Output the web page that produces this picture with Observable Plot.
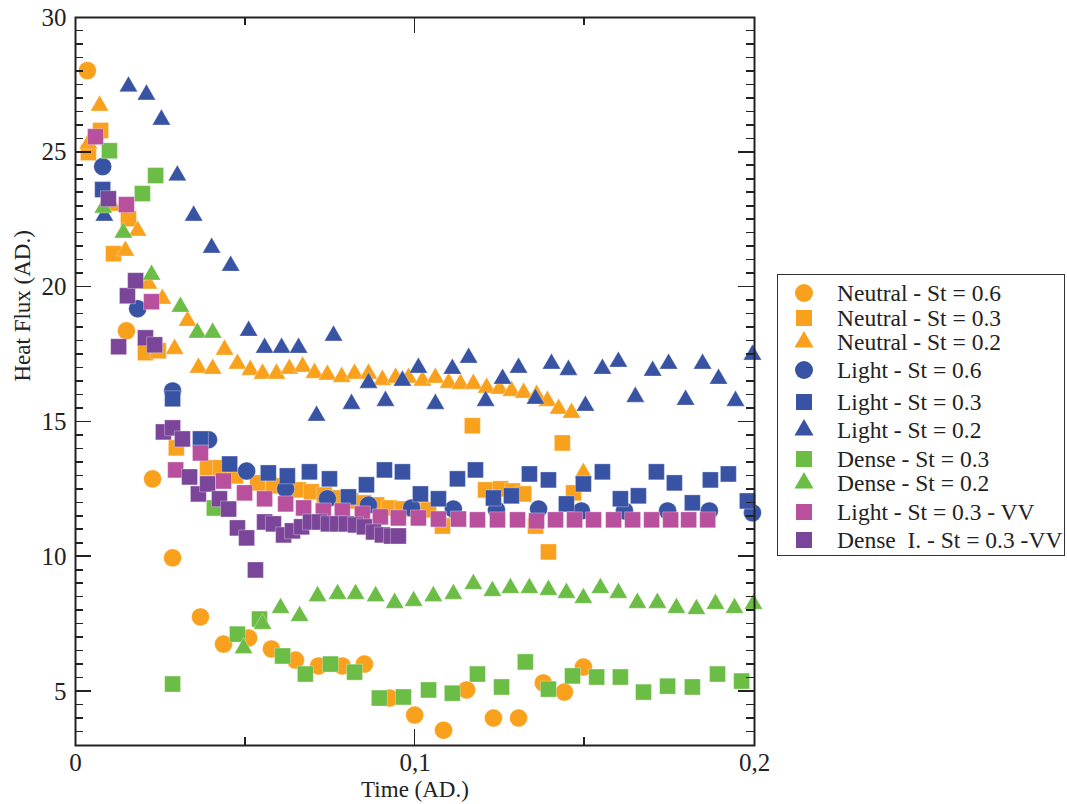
<!DOCTYPE html>
<html><head><meta charset="utf-8">
<script src="https://cdn.jsdelivr.net/npm/d3@7"></script>
<script src="https://cdn.jsdelivr.net/npm/@observablehq/plot@0.6"></script>
<style>
html,body{margin:0;padding:0;background:#fff;}
#wrap{position:relative;width:1067px;height:804px;overflow:hidden;}
#legend{position:absolute;left:777px;top:274px;width:288px;height:282px;border:1.5px solid #333;box-sizing:border-box;font-family:"Liberation Serif",serif;font-size:23.5px;color:#222;background:#fff;}
.row{position:absolute;left:0;height:26px;white-space:pre;}
.row svg{position:absolute;left:14px;top:1px;}
.row span{position:absolute;left:59px;line-height:26px;top:0;}
.tick{position:absolute;background:#222;}
</style></head><body><div id="wrap"></div>
<script>
// ---- data (Time, Heat Flux) ----
const neutral06 = [[0.0035,28.03],[0.0150,18.38],[0.0227,12.89],[0.0286,9.96],[0.0368,7.77],[0.0436,6.76],[0.0510,6.99],[0.0577,6.58],[0.0648,6.17],[0.0716,5.95],[0.0786,5.95],[0.0851,6.02],[0.0925,4.76],[0.0999,4.13],[0.1084,3.57],[0.1152,5.06],[0.1231,4.02],[0.1305,4.02],[0.1378,5.32],[0.1440,4.98],[0.1496,5.91]];
const neutral03 = [[0.0038,24.99],[0.0074,25.81],[0.0112,21.24],[0.0156,22.54],[0.0206,17.57],[0.0244,17.64],[0.0297,14.04],[0.0389,13.30],[0.0427,13.30],[0.0471,13.00],[0.0536,12.74],[0.0583,12.63],[0.0657,12.48],[0.0695,12.41],[0.0733,12.29],[0.0772,12.18],[0.0810,12.07],[0.0848,12.00],[0.0887,11.92],[0.0925,11.81],[0.0963,11.77],[0.1001,11.77],[0.1040,11.74],[0.1081,11.14],[0.1169,14.86],[0.1208,12.48],[0.1252,12.52],[0.1287,12.44],[0.1320,12.33],[0.1355,11.14],[0.1393,10.18],[0.1434,14.22],[0.1467,12.37]];
const neutral02 = [[0.0038,25.32],[0.0071,26.73],[0.0109,23.02],[0.0147,21.35],[0.0183,22.09],[0.0215,20.13],[0.0256,19.57],[0.0292,17.71],[0.0330,18.75],[0.0362,17.01],[0.0404,16.97],[0.0439,17.68],[0.0477,17.16],[0.0515,16.93],[0.0551,16.79],[0.0592,16.79],[0.0630,16.97],[0.0669,17.05],[0.0704,16.82],[0.0742,16.75],[0.0784,16.67],[0.0822,16.79],[0.0863,16.79],[0.0904,16.56],[0.0943,16.64],[0.0981,16.64],[0.1022,16.53],[0.1060,16.64],[0.1099,16.45],[0.1134,16.41],[0.1172,16.41],[0.1211,16.27],[0.1249,16.23],[0.1284,16.15],[0.1320,16.08],[0.1358,16.01],[0.1390,15.78],[0.1423,15.49],[0.1461,15.34],[0.1496,13.11]];
const light06 = [[0.0080,24.47],[0.0183,19.20],[0.0286,16.15],[0.0392,14.34],[0.0504,13.18],[0.0619,12.52],[0.0742,12.15],[0.0863,11.92],[0.0990,11.81],[0.1113,11.77],[0.1240,11.74],[0.1364,11.77],[0.1490,11.70],[0.1617,11.70],[0.1744,11.70],[0.1867,11.70],[0.1994,11.63]];
const light03 = [[0.0080,23.62],[0.0286,15.86],[0.0368,14.37],[0.0454,13.44],[0.0568,13.11],[0.0624,13.00],[0.0689,13.15],[0.0748,12.89],[0.0804,12.22],[0.0857,12.67],[0.0910,13.22],[0.0963,13.15],[0.1016,12.33],[0.1069,12.15],[0.1125,12.89],[0.1178,13.22],[0.1231,12.18],[0.1284,12.26],[0.1337,13.07],[0.1393,12.85],[0.1446,11.96],[0.1496,12.70],[0.1552,13.15],[0.1605,12.15],[0.1658,12.26],[0.1711,13.15],[0.1764,12.74],[0.1817,12.00],[0.1870,12.85],[0.1923,13.07],[0.1979,12.07]];
const light02 = [[0.0085,22.65],[0.0156,27.44],[0.0209,27.14],[0.0253,26.21],[0.0300,24.14],[0.0348,22.65],[0.0401,21.46],[0.0457,20.79],[0.0510,18.38],[0.0557,17.75],[0.0607,17.75],[0.0657,17.75],[0.0710,15.23],[0.0760,18.20],[0.0813,15.67],[0.0863,16.45],[0.0913,15.78],[0.0963,16.53],[0.1010,17.01],[0.1060,15.67],[0.1110,16.97],[0.1158,17.38],[0.1208,15.78],[0.1258,16.60],[0.1305,17.01],[0.1355,15.86],[0.1402,17.16],[0.1452,16.93],[0.1502,15.60],[0.1552,16.97],[0.1599,17.23],[0.1649,15.93],[0.1700,16.90],[0.1747,17.16],[0.1797,15.82],[0.1847,17.16],[0.1894,16.60],[0.1944,15.78],[0.1994,17.49]];
const dense03 = [[0.0100,25.06],[0.0197,23.47],[0.0236,24.14],[0.0286,5.28],[0.0409,11.81],[0.0477,7.13],[0.0542,7.69],[0.0610,6.32],[0.0677,5.65],[0.0751,6.02],[0.0822,5.72],[0.0895,4.76],[0.0966,4.80],[0.1040,5.06],[0.1110,4.94],[0.1184,5.65],[0.1255,5.17],[0.1325,6.10],[0.1393,5.09],[0.1464,5.58],[0.1535,5.54],[0.1605,5.54],[0.1673,4.98],[0.1744,5.20],[0.1817,5.17],[0.1891,5.65],[0.1962,5.39]];
const dense02 = [[0.0082,22.95],[0.0141,22.02],[0.0224,20.46],[0.0309,19.27],[0.0359,18.31],[0.0404,18.31],[0.0495,6.61],[0.0551,7.51],[0.0604,8.10],[0.0660,7.80],[0.0713,8.54],[0.0772,8.62],[0.0825,8.62],[0.0884,8.54],[0.0940,8.29],[0.0996,8.36],[0.1054,8.54],[0.1113,8.62],[0.1172,8.99],[0.1228,8.73],[0.1281,8.84],[0.1337,8.84],[0.1393,8.77],[0.1446,8.66],[0.1496,8.47],[0.1546,8.84],[0.1599,8.66],[0.1655,8.29],[0.1714,8.29],[0.1770,8.10],[0.1829,8.06],[0.1885,8.25],[0.1941,8.10],[0.1997,8.25]];
const light03vv = [[0.0059,25.58],[0.0150,23.06],[0.0224,19.46],[0.0295,13.22],[0.0368,13.85],[0.0436,12.81],[0.0498,12.37],[0.0557,12.15],[0.0619,11.96],[0.0672,11.81],[0.0730,11.70],[0.0786,11.70],[0.0845,11.59],[0.0898,11.48],[0.0951,11.44],[0.1010,11.44],[0.1069,11.40],[0.1128,11.40],[0.1184,11.37],[0.1243,11.37],[0.1302,11.37],[0.1358,11.33],[0.1414,11.37],[0.1470,11.37],[0.1526,11.37],[0.1585,11.37],[0.1641,11.37],[0.1697,11.37],[0.1753,11.37],[0.1806,11.37],[0.1862,11.37]];
const dense03vv = [[0.0097,23.28],[0.0127,17.79],[0.0153,19.68],[0.0177,20.24],[0.0206,18.12],[0.0233,17.86],[0.0259,14.63],[0.0286,14.78],[0.0315,14.37],[0.0336,12.96],[0.0362,12.33],[0.0389,12.70],[0.0424,12.15],[0.0451,11.77],[0.0477,11.07],[0.0504,10.70],[0.0530,9.51],[0.0557,11.29],[0.0583,11.22],[0.0613,10.81],[0.0639,10.96],[0.0666,11.11],[0.0692,11.29],[0.0719,11.29],[0.0745,11.22],[0.0772,11.22],[0.0798,11.22],[0.0825,11.18],[0.0851,11.11],[0.0878,10.92],[0.0904,10.81],[0.0931,10.77],[0.0951,10.77]];

const seriesNames = ["Neutral - St = 0.6","Neutral - St = 0.3","Neutral - St = 0.2","Light - St = 0.6","Light - St = 0.3","Light - St = 0.2","Dense - St = 0.3","Dense - St = 0.2","Light - St = 0.3 - VV","Dense  I. - St = 0.3 -VV"];
const seriesData = [neutral06, neutral03, neutral02, light06, light03, light02, dense03, dense02, light03vv, dense03vv];
const seriesColors = ["#f9a11c","#f9a11c","#f9a11c","#3953a4","#3953a4","#3953a4","#6bbd45","#6bbd45","#b8509e","#7b4699"];
const seriesSymbols = ["circle","square","triangle","circle","square","triangle","square","triangle","square","square"];

const yMajor = [5,10,15,20,25];
const yMinor = d3.range(3.5, 30, 0.5).filter(v => v % 5 !== 0);
const xMajor = [0.1];
const xMinor = [0.05, 0.15];
const xLabels = [0, 0.1, 0.2];
const yLabels = [5,10,15,20,25,30];

const xDomain = [0, 0.2], yDomain = [3, 30];
const symR = {circle: 9, square: 9, triangle: 6.8};
const fmt = d => d === 0 ? "0" : String(d).replace(".", ",");

const dotMarks = seriesData.map((data, i) => Plot.dot(data, {
  x: d => d[0], y: d => d[1], symbol: seriesSymbols[i], r: symR[seriesSymbols[i]],
  fill: seriesColors[i], stroke: "white", strokeWidth: 0.6, strokeOpacity: 0.55
}));

const chart = Plot.plot({
  width: 1067, height: 804,
  marginLeft: 75, marginRight: 313, marginTop: 17, marginBottom: 59,
  style: {fontFamily: "Liberation Serif, serif", color: "#222", background: "white", fontSize: "23px"},
  x: {domain: xDomain},
  y: {domain: yDomain},
  marks: [
    ...dotMarks,
    Plot.axisY({anchor: "left", ticks: yLabels, tickSize: 0, tickPadding: 9, fontSize: 25, tickFormat: fmt, label: null}),
    Plot.axisX({anchor: "bottom", ticks: xLabels, tickSize: 0, tickPadding: 8, fontSize: 25, tickFormat: fmt, label: null}),
    Plot.text(["Heat Flux (AD.)"], {frameAnchor: "left", rotate: -90, dx: -53, fontSize: 23, fill: "#222"}),
    Plot.text(["Time (AD.)"], {frameAnchor: "bottom", dy: 51, fontSize: 23, fill: "#222"}),
    Plot.frame({stroke: "#222", strokeWidth: 2})
  ]
});
const wrap = document.getElementById("wrap");
wrap.appendChild(chart);

// inward tick marks, positioned with the chart's own x and y scales
const xs = chart.scale("x"), ys = chart.scale("y");
const xL = xs.apply(xDomain[0]), xR = xs.apply(xDomain[1]);
const yB = ys.apply(yDomain[0]), yT = ys.apply(yDomain[1]);
function addTick(left, top, w, h) {
  const t = document.createElement("div");
  t.className = "tick";
  t.style.left = left + "px"; t.style.top = top + "px";
  t.style.width = w + "px"; t.style.height = h + "px";
  wrap.appendChild(t);
}
const lw = 1.6;
yMajor.forEach(v => { const y = ys.apply(v); addTick(xL, y - lw / 2, 16, lw); addTick(xR - 16, y - lw / 2, 16, lw); });
yMinor.forEach(v => { const y = ys.apply(v); addTick(xL, y - lw / 2, 8, lw); addTick(xR - 8, y - lw / 2, 8, lw); });
xMajor.forEach(v => { const x = xs.apply(v); addTick(x - lw / 2, yB - 16, lw, 16); addTick(x - lw / 2, yT, lw, 16); });
xMinor.forEach(v => { const x = xs.apply(v); addTick(x - lw / 2, yB - 8, lw, 8); addTick(x - lw / 2, yT, lw, 8); });

// legend
const legend = document.createElement("div");
legend.id = "legend";
const rowCenters = [18, 43, 67, 95, 127, 155, 184, 208, 237, 265];
seriesNames.forEach((name, i) => {
  const row = document.createElement("div");
  row.className = "row";
  row.style.top = (rowCenters[i] - 13) + "px";
  const sym = {circle: d3.symbolCircle, square: d3.symbolSquare, triangle: d3.symbolTriangle}[seriesSymbols[i]];
  const r = seriesSymbols[i] === "triangle" ? 7.1 : 9;
  const path = d3.symbol(sym, Math.PI * r * r)();
  row.innerHTML = `<svg width="24" height="24" viewBox="-12 -12 24 24"><path d="${path}" fill="${seriesColors[i]}"/></svg><span>${name}</span>`;
  legend.appendChild(row);
});
wrap.appendChild(legend);
</script>
</body></html>
